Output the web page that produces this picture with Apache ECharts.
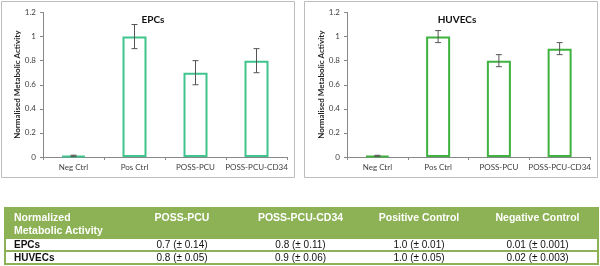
<!DOCTYPE html>
<html>
<head>
<meta charset="utf-8">
<script src="https://cdn.jsdelivr.net/npm/echarts@6/dist/echarts.min.js"></script>
<style>
  html, body { margin: 0; padding: 0; background: #fff; }
  #wrap { position: relative; width: 600px; height: 266px; overflow: hidden; }
  #chart { position: absolute; left: 0; top: 0; width: 600px; height: 266px; }
  #tbl { position: absolute; left: 4px; top: 207px; width: 593px; border-collapse: collapse; table-layout: fixed;
         font-family: "Liberation Sans", Arial, sans-serif; border: 2px solid #8db255; }
  #tbl th { background: #8db255; color: #fff; font-weight: bold; font-size: 10.5px; line-height: 13px;
            vertical-align: top; padding: 2px 0 0 0; text-align: center; height: 25px; }
  #tbl th.first { text-align: left; padding-left: 8px; }
  #tbl td { font-size: 10px; line-height: 11px; height: 11px; padding: 0; text-align: center; color: #111;
            border-top: 2px solid #8db255; }
  #tbl td.first { text-align: left; padding-left: 8px; font-weight: bold; }
</style>
</head>
<body>
<div id="wrap">
  <div id="chart"></div>
  <table id="tbl"></table>
</div>
<script>
// ---- data ----
const categories = ['Neg Ctrl', 'Pos Ctrl', 'POSS-PCU', 'POSS-PCU-CD34'];
const epcValues = [0.01, 1.0, 0.7, 0.8];
const epcErrors = [0.005, 0.1, 0.1, 0.1];
const huvecValues = [0.01, 1.0, 0.8, 0.9];
const huvecErrors = [0.004, 0.05, 0.05, 0.05];
const yTicks = [0, 0.2, 0.4, 0.6, 0.8, 1, 1.2];

const tableHeader = ['Normalized Metabolic Activity', 'POSS-PCU', 'POSS-PCU-CD34', 'Positive Control', 'Negative Control'];
const tableRowNames = ['EPCs', 'HUVECs'];
const tableEPCs = ['0.7 (\u00b1 0.14)', '0.8 (\u00b1 0.11)', '1.0 (\u00b1 0.01)', '0.01 (\u00b1 0.001)'];
const tableHUVECs = ['0.8 (\u00b1 0.05)', '0.9 (\u00b1 0.06)', '1.0 (\u00b1 0.05)', '0.02 (\u00b1 0.003)'];
const colWidths = [118, 118, 119, 118, 120];

// ---- table ----
(function buildTable() {
  const t = document.getElementById('tbl');
  let html = '<colgroup>' + colWidths.map(w => '<col style="width:' + w + 'px">').join('') + '</colgroup>';
  html += '<tr>' + tableHeader.map((h, i) => '<th class="' + (i === 0 ? 'first' : '') + '">' +
           (i === 0 ? 'Normalized<br>Metabolic Activity' : h) + '</th>').join('') + '</tr>';
  const rows = [tableEPCs, tableHUVECs];
  rows.forEach((r, ri) => {
    html += '<tr><td class="first">' + tableRowNames[ri] + '</td>' + r.map(v => '<td>' + v + '</td>').join('') + '</tr>';
  });
  t.innerHTML = html;
})();

// ---- chart ----
const chart = echarts.init(document.getElementById('chart'), null, { renderer: 'canvas' });
const font = 'Lato, "Open Sans", sans-serif';
const labelColor = '#404040';

function errData(vals, errs) {
  return vals.map((v, i) => [i, v - errs[i], v + errs[i]]);
}
function errRender(params, api) {
  const x = api.value(0);
  const lo = api.coord([x, api.value(1)]);
  const hi = api.coord([x, api.value(2)]);
  const cap = 3;
  const style = { stroke: '#555', lineWidth: 1 };
  return {
    type: 'group',
    children: [
      { type: 'line', shape: { x1: lo[0], y1: lo[1], x2: hi[0], y2: hi[1] }, style },
      { type: 'line', shape: { x1: lo[0] - cap, y1: lo[1], x2: lo[0] + cap, y2: lo[1] }, style },
      { type: 'line', shape: { x1: hi[0] - cap, y1: hi[1], x2: hi[0] + cap, y2: hi[1] }, style }
    ]
  };
}

function xAxis(gi) {
  return {
    type: 'category', gridIndex: gi, data: categories,
    axisLine: { lineStyle: { color: '#888', width: 1 } },
    axisTick: { show: true, length: 3, lineStyle: { color: '#888' } },
    axisLabel: { fontSize: 8, color: labelColor, fontFamily: font, margin: 6, interval: 0 }
  };
}
function yAxis(gi) {
  return {
    type: 'value', gridIndex: gi, min: 0, max: 1.2, interval: 0.2,
    name: 'Normalised Metabolic Activity', nameLocation: 'middle', nameGap: 16,
    nameTextStyle: { fontSize: 8, fontWeight: 'bold', color: '#222', fontFamily: font },
    axisLine: { show: true, lineStyle: { color: '#888', width: 1 } },
    axisTick: { show: true, length: 3, lineStyle: { color: '#888' } },
    axisLabel: { fontSize: 8, color: labelColor, fontFamily: font, margin: 7,
                 formatter: v => String(Math.round(v * 10) / 10) },
    splitLine: { show: false }
  };
}

chart.setOption({
  animation: false,
  backgroundColor: '#fff',
  title: [
    { text: 'EPCs', left: 148, top: 10, textAlign: 'center',
      textStyle: { fontSize: 10, fontWeight: 'bold', color: '#111', fontFamily: font } },
    { text: 'HUVECs', left: 452, top: 10, textAlign: 'center',
      textStyle: { fontSize: 10, fontWeight: 'bold', color: '#111', fontFamily: font } }
  ],
  graphic: [
    { type: 'rect', shape: { x: 1.5, y: 1.5, width: 293, height: 176 }, style: { fill: 'none', stroke: '#bdbdbd', lineWidth: 1 }, z: -1 },
    { type: 'rect', shape: { x: 304.5, y: 1.5, width: 293, height: 176 }, style: { fill: 'none', stroke: '#bdbdbd', lineWidth: 1 }, z: -1 }
  ],
  grid: [
    { left: 43, top: 12.5, width: 244, height: 144.5 },
    { left: 347, top: 12.5, width: 243, height: 144.5 }
  ],
  xAxis: [xAxis(0), xAxis(1)],
  yAxis: [yAxis(0), yAxis(1)],
  series: [
    { type: 'bar', xAxisIndex: 0, yAxisIndex: 0, data: epcValues, barWidth: 24,
      itemStyle: { color: '#fff', borderColor: '#3ec48c', borderWidth: 2 } },
    { type: 'custom', xAxisIndex: 0, yAxisIndex: 0, data: errData(epcValues, epcErrors), renderItem: errRender, z: 5 },
    { type: 'bar', xAxisIndex: 1, yAxisIndex: 1, data: huvecValues, barWidth: 24,
      itemStyle: { color: '#fff', borderColor: '#3fb23f', borderWidth: 2 } },
    { type: 'custom', xAxisIndex: 1, yAxisIndex: 1, data: errData(huvecValues, huvecErrors), renderItem: errRender, z: 5 }
  ]
});
</script>
</body>
</html>
